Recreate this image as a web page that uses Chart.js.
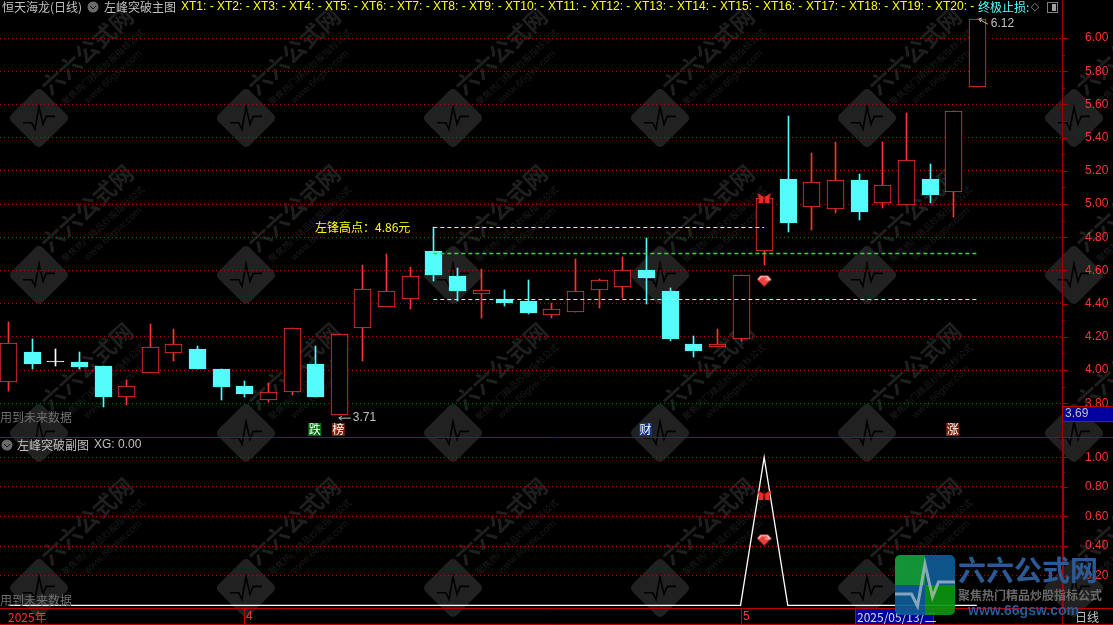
<!DOCTYPE html>
<html>
<head>
<meta charset="utf-8">
<title>恒天海龙(日线)</title>
<script src="https://cdn.jsdelivr.net/npm/chart.js@4"></script>
<style>
  html, body { margin: 0; padding: 0; background: #000; overflow: hidden; }
  canvas { display: block; }
</style>
</head>
<body>
<canvas id="kline" width="1113" height="625"></canvas>
<script>
// daily candles
const opens  = [3.926, 4.108, 4.049, 4.048, 4.024, 3.836, 3.984, 4.104, 4.127, 4.006, 3.904, 3.821, 3.866, 4.036, 3.727,
                4.251, 4.381, 4.430, 4.717, 4.566, 4.460, 4.426, 4.416, 4.333, 4.351, 4.480, 4.502, 4.601, 4.476, 4.157,
                4.137, 4.185, 4.715, 5.151, 4.980, 4.972, 5.145, 5.004, 4.992, 5.151, 5.070, 5.705];
const closes = [4.161, 4.038, 4.055, 4.020, 3.839, 3.902, 4.137, 4.155, 4.006, 3.898, 3.855, 3.866, 4.251, 3.839, 4.215,
                4.488, 4.476, 4.564, 4.574, 4.476, 4.482, 4.405, 4.345, 4.366, 4.474, 4.540, 4.601, 4.556, 4.189, 4.116,
                4.155, 4.570, 5.034, 4.887, 5.131, 5.143, 4.954, 5.113, 5.263, 5.056, 5.558, 6.117];
const highs  = [4.289, 4.185, 4.126, 4.108, 4.024, 3.940, 4.277, 4.247, 4.145, 4.006, 3.934, 3.922, 4.251, 4.145, 4.215,
                4.633, 4.699, 4.620, 4.860, 4.613, 4.607, 4.482, 4.542, 4.402, 4.667, 4.548, 4.679, 4.793, 4.492, 4.205,
                4.247, 4.570, 5.034, 5.530, 5.307, 5.373, 5.181, 5.373, 5.548, 5.241, 5.558, 6.117];
const lows   = [3.875, 4.008, 4.026, 4.008, 3.779, 3.791, 3.984, 4.056, 4.006, 3.819, 3.837, 3.809, 3.849, 3.839, 3.727,
                4.056, 4.381, 4.369, 4.538, 4.417, 4.315, 4.387, 4.339, 4.315, 4.351, 4.375, 4.436, 4.399, 4.177, 4.080,
                4.137, 4.177, 4.634, 4.833, 4.845, 4.948, 4.905, 4.978, 4.992, 5.006, 4.922, 5.705];
const xgValues = [0, 0, 0, 0, 0, 0, 0, 0, 0, 0, 0, 0, 0, 0, 0, 0, 0, 0, 0, 0, 0,
                  0, 0, 0, 0, 0, 0, 0, 0, 0, 0, 0, 1, 0, 0, 0, 0, 0, 0, 0, 0, 0];

const mainTicks = [6.0, 5.8, 5.6, 5.4, 5.2, 5.0, 4.8, 4.6, 4.4, 4.2, 4.0, 3.8];
const subTicks = [1.0, 0.8, 0.6, 0.4, 0.2];

// horizontal levels drawn from the left peak candle
const peakStart = 18;
const peakEnd = 32;
const levelEnd = 41;
const peakLevel = 4.86;
const breakLevel = 4.70;
const supportLevel = 4.426;

const signalIndex = 32;
const butterflyMain = 5.036;
const gemMain = 4.536;
const butterflySub = 0.745;
const gemSub = 0.441;

const lowIndex = 14;
const lowLabel = 3.71;
const highIndex = 41;
const highLabel = 6.12;

const tagIndex = [13, 14, 27, 40];
const tagText = ['跌', '榜', '财', '涨'];
const tagColor = ['#006e10', '#7c1c0c', '#12328c', '#7c1c0c'];

const dateIndex = [10, 31];
const dateLabels = ['4', '5'];
const xtNames = ['XT1', 'XT2', 'XT3', 'XT4', 'XT5', 'XT6', 'XT7', 'XT8', 'XT9', 'XT10',
                 'XT11', 'XT12', 'XT13', 'XT14', 'XT15', 'XT16', 'XT17', 'XT18', 'XT19', 'XT20'];

const RED = '#ff3232';
const CYAN = '#54fcfc';
const GRID = '#c00000';
const AXIS = '#a00000';
const CJK = '"Noto Sans CJK SC", "Liberation Sans", sans-serif';
const LATIN = '"Liberation Sans", sans-serif';

function candleColor(i) {
    if (i === 2) return '#ffffff';
    return closes[i] > opens[i] ? RED : CYAN;
}

function makeButterfly() {
    const c = document.createElement('canvas');
    c.width = 16; c.height = 14;
    const g = c.getContext('2d');
    g.fillStyle = '#f02a22';
    g.beginPath();
    g.moveTo(8, 6); g.lineTo(1, 2); g.lineTo(3, 8); g.lineTo(2, 12); g.lineTo(7, 12);
    g.closePath(); g.fill();
    g.beginPath();
    g.moveTo(8, 6); g.lineTo(15, 2); g.lineTo(13, 8); g.lineTo(14, 12); g.lineTo(9, 12);
    g.closePath(); g.fill();
    g.strokeStyle = '#5a0a08';
    g.beginPath();
    g.moveTo(8, 2); g.lineTo(8, 12);
    g.stroke();
    return c;
}

function makeGem() {
    const c = document.createElement('canvas');
    c.width = 16; c.height = 13;
    const g = c.getContext('2d');
    g.fillStyle = '#f0403c';
    g.beginPath();
    g.moveTo(4, 1); g.lineTo(12, 1); g.lineTo(15, 5); g.lineTo(8, 12); g.lineTo(1, 5);
    g.closePath(); g.fill();
    g.strokeStyle = '#ffe8e8';
    g.lineWidth = 1.2;
    g.beginPath();
    g.moveTo(2, 5); g.lineTo(5, 2); g.lineTo(11, 2); g.lineTo(14, 5); g.lineTo(9, 5);
    g.stroke();
    return c;
}

function put(ctx, str, x, y, color, font, align) {
    ctx.fillStyle = color;
    ctx.font = font;
    ctx.textAlign = align || 'left';
    ctx.textBaseline = 'middle';
    ctx.fillText(str, x, y);
}

function hline(ctx, x1, x2, y, color) {
    ctx.strokeStyle = color;
    ctx.lineWidth = 1;
    ctx.beginPath();
    ctx.moveTo(x1, y + 0.5);
    ctx.lineTo(x2, y + 0.5);
    ctx.stroke();
}

function vline(ctx, x, y1, y2, color) {
    ctx.strokeStyle = color;
    ctx.lineWidth = 1;
    ctx.beginPath();
    ctx.moveTo(x + 0.5, y1);
    ctx.lineTo(x + 0.5, y2);
    ctx.stroke();
}

function pulse(ctx, s, color) {
    ctx.strokeStyle = color;
    ctx.lineWidth = 2 * s;
    ctx.beginPath();
    ctx.moveTo(-20 * s, 6 * s);
    ctx.lineTo(-9 * s, 6 * s);
    ctx.lineTo(-5 * s, 14 * s);
    ctx.lineTo(0, -14 * s);
    ctx.lineTo(5 * s, 8 * s);
    ctx.lineTo(9 * s, -2 * s);
    ctx.lineTo(20 * s, -2 * s);
    ctx.stroke();
}

// grey round button with a small chevron, used by both panel headers
function chevronDot(ctx, x, y) {
    ctx.fillStyle = '#6a6a6a';
    ctx.beginPath();
    ctx.arc(x, y, 5.5, 0, Math.PI * 2);
    ctx.fill();
    ctx.strokeStyle = '#111';
    ctx.lineWidth = 1;
    ctx.beginPath();
    ctx.moveTo(x - 3, y - 1);
    ctx.lineTo(x, y + 2);
    ctx.lineTo(x + 3, y - 1);
    ctx.stroke();
}

// snap candles and level lines to whole pixels so the 1px strokes stay sharp
const crispPlugin = {
    id: 'crisp',
    afterDatasetsUpdate(chart) {
        chart.data.datasets.forEach((ds, n) => {
            const meta = chart.getDatasetMeta(n);
            if (ds.type === 'line') {
                if (ds.data.length === 2) meta.data.forEach(pt => { pt.y = Math.floor(pt.y) + 0.5; });
                return;
            }
            meta.data.forEach(el => {
                el.x = Math.round(el.x) + 0.5;
                el.y = Math.round(el.y);
                el.base = Math.round(el.base);
                el.height = el.base - el.y;
            });
        });
    }
};

// repeated site mark behind the candles
const watermarkPlugin = {
    id: 'watermark',
    beforeDraw(chart) {
        const ctx = chart.ctx;
        ctx.save();
        ctx.fillStyle = '#000';
        ctx.fillRect(0, 0, 1113, 625);
        [118, 275, 433, 588].forEach(my => {
            for (let mx = 39; mx < 1200; mx += 207) {
                ctx.save();
                ctx.translate(mx, my);
                ctx.rotate(-Math.PI / 4);
                ctx.fillStyle = '#212121';
                ctx.beginPath();
                ctx.roundRect(-22, -22, 44, 44, 5);
                ctx.fill();
                ctx.rotate(Math.PI / 4);
                pulse(ctx, 0.8, '#000');
                ctx.restore();
                ctx.save();
                ctx.translate(mx + 48, my - 67);
                ctx.rotate(-Math.PI * 0.235);
                put(ctx, '六六公式网', 0, 0, '#1f1f1f', 'bold 23px ' + CJK, 'center');
                ctx.restore();
                ctx.save();
                ctx.translate(mx + 64, my - 51);
                ctx.rotate(-Math.PI * 0.235);
                put(ctx, '聚焦热门精品炒股指标公式', 0, 0, '#1c1c1c', '9px ' + CJK, 'center');
                ctx.restore();
                ctx.save();
                ctx.translate(mx + 74, my - 41);
                ctx.rotate(-Math.PI * 0.235);
                put(ctx, 'www.66gsw.com', 0, 0, '#1a1a1a', '10px ' + LATIN, 'center');
                ctx.restore();
            }
        });
        ctx.restore();
    }
};

// headers, tags, arrows and the bottom time strip
const overlayPlugin = {
    id: 'overlay',
    afterDraw(chart) {
        const ctx = chart.ctx;
        const xs = chart.scales.x;
        const ys = chart.scales.y;
        const y2 = chart.scales.y2;
        ctx.save();

        // short axis ticks
        [[ys, mainTicks, 0.1], [y2, subTicks, 0.1]].forEach(([scale, list, half]) => {
            list.forEach(v => {
                const py = Math.round(scale.getPixelForValue(v));
                hline(ctx, 1062, 1068, py, AXIS);
                const pm = Math.round(scale.getPixelForValue(v - half));
                hline(ctx, 1062, 1065, pm, AXIS);
            });
        });

        vline(ctx, 1062, 0, 625, AXIS);
        vline(ctx, 1063, 438, 607, AXIS);
        hline(ctx, 0, 1113, 437, AXIS);
        hline(ctx, 0, 1113, 608, '#c00000');
        hline(ctx, 0, 1113, 624, '#c00000');

        // main header
        put(ctx, '恒天海龙(日线)', 2, 7, '#c0c0c0', '12px ' + CJK);
        chevronDot(ctx, 93, 7);
        put(ctx, '左峰突破主图', 104, 7, '#c0c0c0', '12px ' + CJK);
        xtNames.forEach((name, i) => {
            const px = i < 9 ? 181 + 36 * i : 505 + 43 * (i - 9);
            put(ctx, name + ': -', px, 7, '#ffff00', '12px ' + LATIN);
        });
        put(ctx, '终极止损:', 978, 7, CYAN, '12px ' + CJK);
        put(ctx, '◇', 1035, 7, '#909090', '11px "DejaVu Sans"', 'center');
        ctx.strokeStyle = '#808080';
        ctx.lineWidth = 1;
        ctx.strokeRect(1047.5, 2.5, 10, 10);
        ctx.fillStyle = '#a0a0a0';
        ctx.fillRect(1052, 4, 4, 7);

        // sub panel header
        chevronDot(ctx, 7, 445);
        put(ctx, '左峰突破副图', 17, 445, '#c0c0c0', '12px ' + CJK);
        put(ctx, 'XG: 0.00', 94, 445, '#c0c0c0', '12px ' + LATIN);

        put(ctx, '用到未来数据', 0, 417, '#707070', '12px ' + CJK);
        put(ctx, '用到未来数据', 0, 600, '#707070', '12px ' + CJK);
        put(ctx, '左锋高点：' + peakLevel.toFixed(2) + '元', 315, ys.getPixelForValue(peakLevel), '#ffff00', '12px ' + CJK);

        // high and low arrows
        const lowY = ys.getPixelForValue(lowLabel);
        const lowX = xs.getPixelForValue(lowIndex);
        ctx.strokeStyle = '#c0c0c0';
        ctx.lineWidth = 1;
        ctx.beginPath();
        ctx.moveTo(lowX + 12, lowY); ctx.lineTo(lowX, lowY);
        ctx.moveTo(lowX + 3, lowY - 2); ctx.lineTo(lowX, lowY); ctx.lineTo(lowX + 3, lowY + 2);
        ctx.stroke();
        put(ctx, lowLabel.toFixed(2), lowX + 14, lowY, '#c0c0c0', '12px ' + LATIN);

        const highY = ys.getPixelForValue(highLabel);
        const highX = xs.getPixelForValue(highIndex);
        ctx.beginPath();
        ctx.moveTo(highX + 11, highY + 6); ctx.lineTo(highX + 2, highY + 1);
        ctx.moveTo(highX + 5, highY); ctx.lineTo(highX + 2, highY + 1); ctx.lineTo(highX + 4, highY + 4);
        ctx.stroke();
        put(ctx, highLabel.toFixed(2), highX + 14, highY + 6, '#c0c0c0', '12px ' + LATIN);

        // tags under the candles
        tagIndex.forEach((idx, i) => {
            const px = xs.getPixelForValue(idx);
            ctx.fillStyle = tagColor[i];
            ctx.fillRect(px - 7, 423, 13, 13);
            put(ctx, tagText[i], px - 0.5, 429.5, '#ffffff', '12px ' + CJK, 'center');
        });

        // time strip
        put(ctx, '2025年', 8, 617, RED, '12px ' + CJK);
        dateIndex.forEach((idx, i) => {
            const px = Math.round(xs.getPixelForValue(idx));
            vline(ctx, px, 608, 624, '#c00000');
            put(ctx, dateLabels[i], px + 2, 617, RED, '12px ' + LATIN);
        });
        ctx.fillStyle = '#0000a0';
        ctx.fillRect(856, 609, 77, 15);
        ctx.strokeStyle = '#c00000';
        ctx.strokeRect(855.5, 608.5, 78, 16);
        put(ctx, '2025/05/13/二', 857, 617, '#d8d8d8', '12px ' + CJK);
        put(ctx, '日线', 1075, 617, '#c0c0c0', '12px ' + CJK);

        // price box on the axis
        ctx.fillStyle = '#0000a0';
        ctx.fillRect(1063, 407, 50, 14);
        ctx.strokeStyle = '#c00000';
        ctx.strokeRect(1062.5, 406.5, 51, 15);
        put(ctx, '3.69', 1065, 414, '#c0c0c0', '12px ' + LATIN);

        // site logo bottom right
        ctx.save();
        ctx.globalAlpha = 0.92;
        ctx.beginPath();
        ctx.roundRect(895, 555, 60, 60, 5);
        ctx.clip();
        ctx.fillStyle = '#14a03c'; ctx.fillRect(895, 555, 30, 30);
        ctx.fillStyle = '#0c5c96'; ctx.fillRect(925, 555, 30, 30);
        ctx.fillStyle = '#0c5c96'; ctx.fillRect(895, 585, 30, 30);
        ctx.fillStyle = '#0c9410'; ctx.fillRect(925, 585, 30, 30);
        ctx.translate(925, 585);
        pulse(ctx, 1.5, 'rgba(190,200,210,0.75)');
        ctx.restore();
        put(ctx, '六六公式网', 958, 570, '#2c5a96', 'bold 28px ' + CJK);
        put(ctx, '聚焦热门精品炒股指标公式', 958, 595, '#6a6a6a', 'bold 12px ' + CJK);
        put(ctx, 'www.66gsw.com', 968, 611, '#2c5a96', 'bold 14px ' + LATIN);

        ctx.restore();
    }
};

const idx = opens.map((_, i) => i);

// no label padding on the stacked value axes, the panels sit flush
function fitValueAxis(s) {
    s.width = 51;
    s.paddingTop = 0;
    s.paddingBottom = 0;
}

new Chart(document.getElementById('kline'), {
    type: 'bar',
    data: {
        datasets: [
            {
                label: 'wick',
                order: 5,
                data: idx.map(i => ({ x: i, y: [lows[i], highs[i]] })),
                backgroundColor: idx.map(candleColor),
                barThickness: 1,
                grouped: false,
                yAxisID: 'y'
            },
            {
                label: 'body',
                order: 4,
                data: idx.map(i => ({ x: i, y: [opens[i], closes[i]] })),
                backgroundColor: idx.map(i => i === 2 ? '#ffffff' : (closes[i] > opens[i] ? '#000000' : CYAN)),
                borderColor: idx.map(candleColor),
                borderWidth: 1,
                borderSkipped: false,
                barThickness: 17,
                grouped: false,
                yAxisID: 'y'
            },
            {
                type: 'line', label: 'peak', order: 3, yAxisID: 'y',
                data: [{ x: peakStart, y: peakLevel }, { x: peakEnd, y: peakLevel }],
                borderColor: '#ffff50', borderWidth: 1, borderDash: [4, 3], pointRadius: 0
            },
            {
                type: 'line', label: 'break', order: 3, yAxisID: 'y',
                data: [{ x: peakStart, y: breakLevel }, { x: levelEnd, y: breakLevel }],
                borderColor: '#00ff00', borderWidth: 1.4, borderDash: [4, 3], pointRadius: 0
            },
            {
                type: 'line', label: 'support', order: 3, yAxisID: 'y',
                data: [{ x: peakStart, y: supportLevel }, { x: levelEnd, y: supportLevel }],
                borderColor: '#a8ffff', borderWidth: 1, borderDash: [4, 3], pointRadius: 0
            },
            {
                type: 'line', label: 'XG', order: 2, yAxisID: 'y2',
                data: idx.map(i => ({ x: i, y: xgValues[i] })),
                borderColor: '#ffffff', borderWidth: 1.3, pointRadius: 0, tension: 0
            },
            {
                type: 'line', label: 'butterfly', order: 1, yAxisID: 'y', showLine: false,
                data: [{ x: signalIndex, y: butterflyMain }],
                pointStyle: makeButterfly()
            },
            {
                type: 'line', label: 'gem', order: 1, yAxisID: 'y', showLine: false,
                data: [{ x: signalIndex, y: gemMain }],
                pointStyle: makeGem()
            },
            {
                type: 'line', label: 'butterfly2', order: 1, yAxisID: 'y2', showLine: false,
                data: [{ x: signalIndex, y: butterflySub }],
                pointStyle: makeButterfly()
            },
            {
                type: 'line', label: 'gem2', order: 1, yAxisID: 'y2', showLine: false,
                data: [{ x: signalIndex, y: gemSub }],
                pointStyle: makeGem()
            }
        ]
    },
    options: {
        responsive: false,
        animation: false,
        devicePixelRatio: 1,
        layout: { autoPadding: false, padding: { top: 18, bottom: 18, left: 0, right: 0 } },
        plugins: { legend: { display: false }, tooltip: { enabled: false }, title: { display: false } },
        scales: {
            x: {
                type: 'linear',
                display: false,
                offset: false,
                min: -0.3386,
                max: 44.604
            },
            y: {
                position: 'right',
                stack: 'panels',
                stackWeight: 419,
                min: 3.5964,
                max: 6.1205,
                afterFit: fitValueAxis,
                afterBuildTicks: s => { s.ticks = mainTicks.map(v => ({ value: v })); },
                grid: { color: GRID, drawTicks: false },
                border: { display: false, dash: [1, 3] },
                ticks: {
                    color: RED,
                    padding: 23,
                    autoSkip: false,
                    font: { family: 'Liberation Sans', size: 12 },
                    callback: v => v.toFixed(2)
                }
            },
            y2: {
                position: 'right',
                stack: 'panels',
                stackWeight: 170,
                min: -0.0115,
                max: 1.137,
                afterFit: fitValueAxis,
                afterBuildTicks: s => { s.ticks = subTicks.map(v => ({ value: v })); },
                grid: { color: GRID, drawTicks: false },
                border: { display: false, dash: [1, 3] },
                ticks: {
                    color: RED,
                    padding: 23,
                    autoSkip: false,
                    font: { family: 'Liberation Sans', size: 12 },
                    callback: v => v.toFixed(2)
                }
            }
        }
    },
    plugins: [crispPlugin, watermarkPlugin, overlayPlugin]
});
</script>
</body>
</html>
